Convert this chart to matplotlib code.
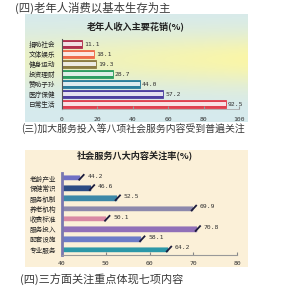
import numpy as np
import matplotlib
matplotlib.use("Agg")
import matplotlib.pyplot as plt
from matplotlib.colors import to_rgb

plt.rcParams["font.family"] = ["Noto Sans CJK SC", "DejaVu Sans"]
plt.rcParams["hatch.linewidth"] = 0.4

# headings
heading1 = "(四)老年人消费以基本生存为主"
heading2 = "(三)加大服务投入等八项社会服务内容受到普遍关注"
heading3 = "(四)三方面关注重点体现七项内容"

# chart 1
title1 = "老年人收入主要花销(%)"
cats1 = ["捐助社会", "文体娱乐", "健身运动", "投资理财", "赞助子孙", "医疗保健", "日常生活"]
vals1 = [11.1, 18.1, 19.3, 28.7, 44.0, 57.2, 92.5]
colors1 = ["#b0304e", "#ee6c4c", "#8c7c44", "#2e9e62", "#2c7e9c", "#4c40a0", "#e0404e"]
ticks1 = [0, 20, 40, 60, 80, 100]

# chart 2
title2 = "社会服务八大内容关注率(%)"
cats2 = ["老龄产业", "保健常识", "服务机制", "养老机构", "收费标准", "服务投入", "配套设施", "专业服务"]
vals2 = [44.2, 46.6, 52.5, 69.9, 50.1, 70.8, 58.1, 64.2]
colors2 = ["#7070c4", "#2c4c84", "#3c88a8", "#8c88ac", "#d888a4", "#9070b8", "#6c7cc8", "#2c98a8"]
ticks2 = [40, 50, 60, 70, 80]

W, H = 300, 298
fig = plt.figure(figsize=(W / 100, H / 100), dpi=100)
fig.patch.set_facecolor("white")


def rect(x0, y0, x1, y1):
    return [x0 / W, 1 - y1 / H, (x1 - x0) / W, (y1 - y0) / H]


def px(x, y):
    return x / W, 1 - y / H


# ---- headings
fig.text(*px(15, 8), heading1, fontsize=8.2, color="#3a3a3a", va="center", ha="left")
fig.text(*px(21, 129), heading2, fontsize=7.1, color="#3a3a3a", va="center", ha="left")
fig.text(*px(20, 279), heading3, fontsize=8.0, color="#3a3a3a", va="center", ha="left")

# ---- panel 1 background (blue -> yellow glow -> blue)
bg1 = fig.add_axes(rect(25, 14, 248, 122))
ny, nx = 120, 200
t = np.linspace(0, 1, ny)[:, None]
s = np.linspace(0, 1, nx)[None, :]
blue = np.array(to_rgb("#d6eaee"))
yel = np.array(to_rgb("#faf6a8"))
w = np.exp(-((t - 0.42) / 0.25) ** 2) * (0.55 + 0.45 * s)
img = blue[None, None, :] + (yel - blue)[None, None, :] * w[:, :, None]
bg1.imshow(img, aspect="auto", extent=[0, 1, 0, 1])
bg1.axis("off")
fig.text(*px(136, 26), title1, fontsize=6.6, fontweight="bold", color="#222222",
         ha="center", va="center")

ax1 = fig.add_axes(rect(62, 39, 239, 109))
ax1.set_facecolor("none")
y1 = np.arange(len(cats1))
ax1.barh(y1, vals1, height=0.72, color=colors1, edgecolor=colors1, linewidth=0.6)
ax1.barh(y1, vals1, height=0.34, color="white", alpha=0.85, linewidth=0)
ax1.barh(y1, vals1, height=0.08, color=colors1, alpha=0.5, linewidth=0)
for yy, v in zip(y1, vals1):
    ax1.text(v + 1.2, yy, f"{v:.1f}", fontsize=4.6, color="#333333",
             family="DejaVu Sans Mono", va="center", ha="left")
ax1.set_xlim(0, 100)
ax1.set_ylim(len(cats1) - 0.5, -0.5)
ax1.set_xticks(ticks1)
ax1.set_xticklabels([str(v) for v in ticks1], family="DejaVu Sans Mono")
ax1.set_yticks(y1)
ax1.set_yticklabels(cats1)
ax1.tick_params(axis="x", labelsize=4.6, length=2, direction="in", pad=6,
                color="#999999", labelcolor="#333333")
ax1.tick_params(axis="y", labelsize=4.8, length=0, pad=5, labelcolor="#222222")
for side in ["top", "right"]:
    ax1.spines[side].set_visible(False)
ax1.spines["left"].set_color("#555555")
ax1.spines["left"].set_linewidth(0.8)
ax1.spines["bottom"].set_color("#aaaaaa")
ax1.spines["bottom"].set_linewidth(0.6)

# ---- panel 2 background
bg2 = fig.add_axes(rect(25, 150, 248, 267))
bg2.set_facecolor("#fbf0d8")
bg2.set_xticks([])
bg2.set_yticks([])
for sp in bg2.spines.values():
    sp.set_visible(False)
fig.text(*px(135, 155), title2, fontsize=6.6, fontweight="bold", color="#222222",
         ha="center", va="center")

ax2 = fig.add_axes(rect(62, 173, 237, 255))
ax2.set_facecolor("none")
y2 = np.arange(len(cats2))
ax2.barh(y2, [v - 40 for v in vals2], left=40, height=0.42, color=colors2,
         edgecolor=colors2, linewidth=0.3, hatch="xxxx")
ax2.barh(y2 - 0.26, [v - 40 for v in vals2], left=40, height=0.12,
         color=colors2, alpha=0.45, linewidth=0)
for yy, v, c in zip(y2, vals2, colors2):
    ax2.plot([v - 0.4, v + 0.9], [yy + 0.22, yy - 0.38], color="#1c1c3c", lw=1.3,
             solid_capstyle="butt")
    ax2.text(v + 1.6, yy - 0.2, f"{v:.1f}", fontsize=4.6, color="#333333",
             family="DejaVu Sans Mono", va="center", ha="left")
ax2.set_xlim(40, 80)
ax2.set_ylim(len(cats2) - 0.5, -0.5)
ax2.set_xticks(ticks2)
ax2.set_xticklabels([str(v) for v in ticks2], family="DejaVu Sans Mono")
ax2.set_yticks(y2)
ax2.set_yticklabels(cats2)
ax2.tick_params(axis="x", labelsize=4.6, length=2, direction="in", pad=4,
                color="#888888", labelcolor="#333333")
ax2.tick_params(axis="y", labelsize=4.8, length=0, pad=4, labelcolor="#222222")
for side in ["top", "right"]:
    ax2.spines[side].set_visible(False)
ax2.spines["left"].set_color("#7a78b0")
ax2.spines["left"].set_linewidth(2.0)
ax2.spines["bottom"].set_color("#999999")
ax2.spines["bottom"].set_linewidth(0.8)

fig.savefig("out.png", dpi=100)
